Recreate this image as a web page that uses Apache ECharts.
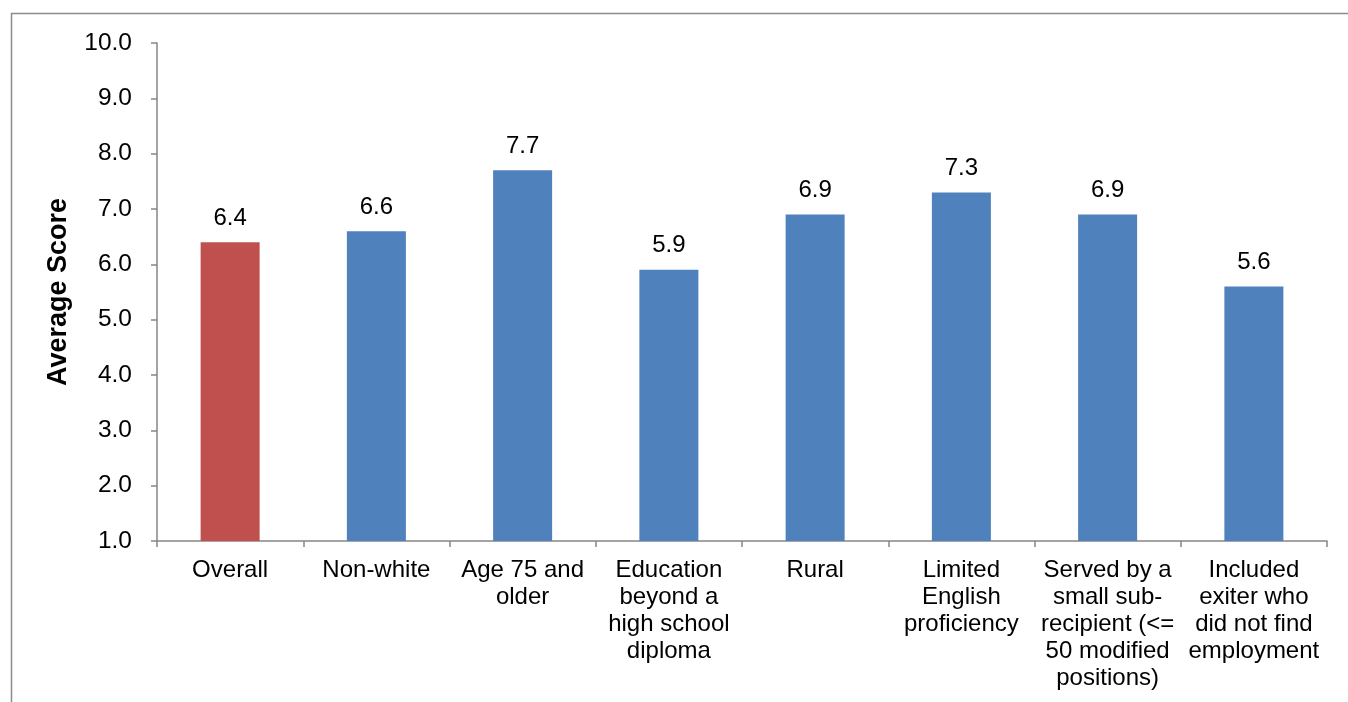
<!DOCTYPE html>
<html>
<head>
<meta charset="utf-8">
<style>
  html, body { margin: 0; padding: 0; background: #fff; }
  #chart { width: 1348px; height: 702px; }
</style>
<script src="https://cdn.jsdelivr.net/npm/echarts@6/dist/echarts.min.js"></script>
</head>
<body>
<div id="chart"></div>
<script>
// Average score by group
const categories = [
  'Overall',
  'Non-white',
  'Age 75 and\nolder',
  'Education\nbeyond a\nhigh school\ndiploma',
  'Rural',
  'Limited\nEnglish\nproficiency',
  'Served by a\nsmall sub-\nrecipient (<=\n50 modified\npositions)',
  'Included\nexiter who\ndid not find\nemployment'
];
const scores = [6.4, 6.6, 7.7, 5.9, 6.9, 7.3, 6.9, 5.6];
const highlightIndex = 0; // the "Overall" bar is drawn in red

const FONT = '"Liberation Sans", Arial, sans-serif';
const AXIS_GRAY = '#868686';

const chart = echarts.init(document.getElementById('chart'));

chart.setOption({
  backgroundColor: '#ffffff',
  animation: false,
  graphic: [
    {
      type: 'polyline',
      shape: { points: [[11.5, 702], [11.5, 13.5], [1348, 13.5]] },
      style: { stroke: '#8c8c8c', lineWidth: 1.5, fill: null }
    }
  ],
  grid: { left: 157, right: 21, top: 43, bottom: 161, containLabel: false },
  xAxis: {
    type: 'category',
    data: categories,
    axisLine: { show: true, lineStyle: { color: AXIS_GRAY, width: 1.5 } },
    axisTick: { show: true, alignWithLabel: false, length: 6, lineStyle: { color: AXIS_GRAY, width: 1.5 } },
    axisLabel: {
      interval: 0,
      margin: 16,
      color: '#000',
      fontFamily: FONT,
      fontSize: 24,
      lineHeight: 27,
      align: 'center',
      verticalAlign: 'top'
    }
  },
  yAxis: {
    type: 'value',
    min: 1,
    max: 10,
    interval: 1,
    name: 'Average Score',
    nameLocation: 'middle',
    nameGap: 85,
    nameTextStyle: { color: '#000', fontFamily: FONT, fontSize: 27, fontWeight: 'bold' },
    axisLine: { show: true, lineStyle: { color: AXIS_GRAY, width: 1.5 } },
    axisTick: { show: true, length: 6, lineStyle: { color: AXIS_GRAY, width: 1.5 } },
    splitLine: { show: false },
    axisLabel: {
      margin: 25,
      color: '#000',
      fontFamily: FONT,
      fontSize: 24.5,
      formatter: v => v.toFixed(1)
    }
  },
  series: [
    {
      type: 'bar',
      barWidth: 59,
      data: scores.map((v, i) => ({
        value: v,
        itemStyle: { color: i === highlightIndex ? '#C0504D' : '#4F81BD' }
      })),
      label: {
        show: true,
        position: 'top',
        distance: 12,
        color: '#000',
        fontFamily: FONT,
        fontSize: 24,
        formatter: p => p.value.toFixed(1)
      }
    }
  ]
});
</script>
</body>
</html>
